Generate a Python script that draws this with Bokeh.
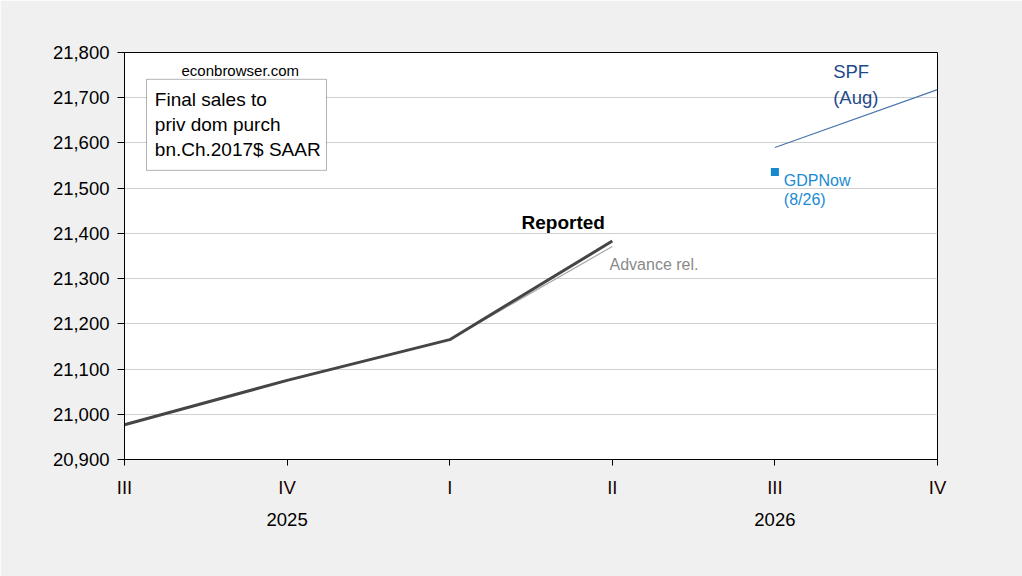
from bokeh.plotting import figure
from bokeh.models import Range1d, LinearAxis, FixedTicker, NumeralTickFormatter, BoxAnnotation, Label
from bokeh.embed import file_html
from bokeh.resources import INLINE

# ---- data ----
quarter_labels = ["III", "IV", "I", "II", "III", "IV"]
quarter_pos = [0, 1, 2, 3, 4, 5]
year_labels = ["2025", "2026"]
year_pos = [1, 4]

reported_x = [0, 1, 2, 3]
reported = [20977, 21075, 21165, 21383]
advance_x = [0, 1, 2, 3]
advance = [20977, 21075, 21165, 21371]
spf_x = [4, 5]
spf = [21590, 21718]
gdpnow_x = [4]
gdpnow = [21536]

y_ticks = [20900, 21000, 21100, 21200, 21300, 21400, 21500, 21600, 21700, 21800]

FONT = "Liberation Sans"
BG = "#f0f0f0"

p = figure(width=1022, height=576, output_backend="svg", toolbar_location=None,
           x_range=Range1d(0, 5), y_range=Range1d(20900, 21800),
           min_border_left=124, min_border_right=85, min_border_top=52, min_border_bottom=117,
           x_axis_type=None)
p.background_fill_color = "white"
p.border_fill_color = BG
p.outline_line_color = "black"
p.outline_line_width = 1

# y axis
p.yaxis.ticker = FixedTicker(ticks=y_ticks)
p.yaxis.formatter = NumeralTickFormatter(format="0,0")
p.yaxis.major_label_text_font = FONT
p.yaxis.major_label_text_font_size = "18.5px"
p.yaxis.major_label_text_color = "black"
p.yaxis.major_tick_out = 7
p.yaxis.major_tick_in = 0
p.yaxis.minor_tick_out = 0
p.yaxis.minor_tick_in = 0
p.yaxis.major_label_standoff = 8
p.yaxis.axis_line_color = "black"
p.yaxis.major_tick_line_color = "black"
p.ygrid.grid_line_color = "#d0d0d0"
p.ygrid.ticker = FixedTicker(ticks=y_ticks)
p.xgrid.grid_line_color = None

# quarter axis
qax = LinearAxis(ticker=FixedTicker(ticks=quarter_pos),
                 major_label_overrides={i: s for i, s in zip(quarter_pos, quarter_labels)})
qax.major_label_text_font = FONT
qax.major_label_text_font_size = "18.5px"
qax.major_label_text_color = "#1a0000"
qax.major_tick_out = 6
qax.major_tick_in = 0
qax.minor_tick_out = 0
qax.minor_tick_in = 0
qax.major_label_standoff = 11
qax.axis_line_color = "black"
qax.major_tick_line_color = "black"
p.add_layout(qax, "below")

# year axis
yax = LinearAxis(ticker=FixedTicker(ticks=year_pos),
                 major_label_overrides={i: s for i, s in zip(year_pos, year_labels)})
yax.major_label_text_font = FONT
yax.major_label_text_font_size = "18.5px"
yax.major_label_text_color = "black"
yax.major_tick_out = 0
yax.major_tick_in = 0
yax.minor_tick_out = 0
yax.minor_tick_in = 0
yax.axis_line_color = None
yax.major_tick_line_color = None
yax.major_label_standoff = 12
p.add_layout(yax, "below")

# series
p.line(advance_x, advance, line_color="#a8a8a8", line_width=1.2)
p.line(reported_x, reported, line_color="#454545", line_width=3)
p.line(spf_x, spf, line_color="#4a76ad", line_width=1.2)
p.scatter(gdpnow_x, gdpnow, marker="square", size=8, fill_color="#1688cc", line_color=None)

# info box
box = BoxAnnotation(left=0.1353, right=1.2423, top=21740.7, bottom=21539.4,
                    fill_color="white", fill_alpha=1.0, line_color="black", line_width=1)
p.add_layout(box)

def lab(x, y, text, size, color="black", style="normal"):
    p.add_layout(Label(x=x, y=y, text=text, text_font=FONT, text_font_size=size,
                       text_color=color, text_font_style=style,
                       text_align="left", text_baseline="alphabetic"))

lab(0.3506, 21761, "econbrowser.com", "15px")
lab(0.1865, 21695, "Final sales to", "19px")
lab(0.1865, 21640, "priv dom purch", "19px")
lab(0.1865, 21586, "bn.Ch.2017$ SAAR", "19px")
lab(2.4416, 21425, "Reported", "19px", style="bold")
lab(2.983, 21331, "Advance rel.", "16px", color="#8a8a8a")
lab(4.3585, 21757, "SPF", "18.5px", color="#1f4a8a")
lab(4.3585, 21701, "(Aug)", "18.5px", color="#1f4a8a")
lab(4.0548, 21517, "GDPNow", "16px", color="#1a8ad4")
lab(4.0548, 21474, "(8/26)", "16px", color="#1a8ad4")

open("out.html", "w").write(file_html(p, INLINE))
